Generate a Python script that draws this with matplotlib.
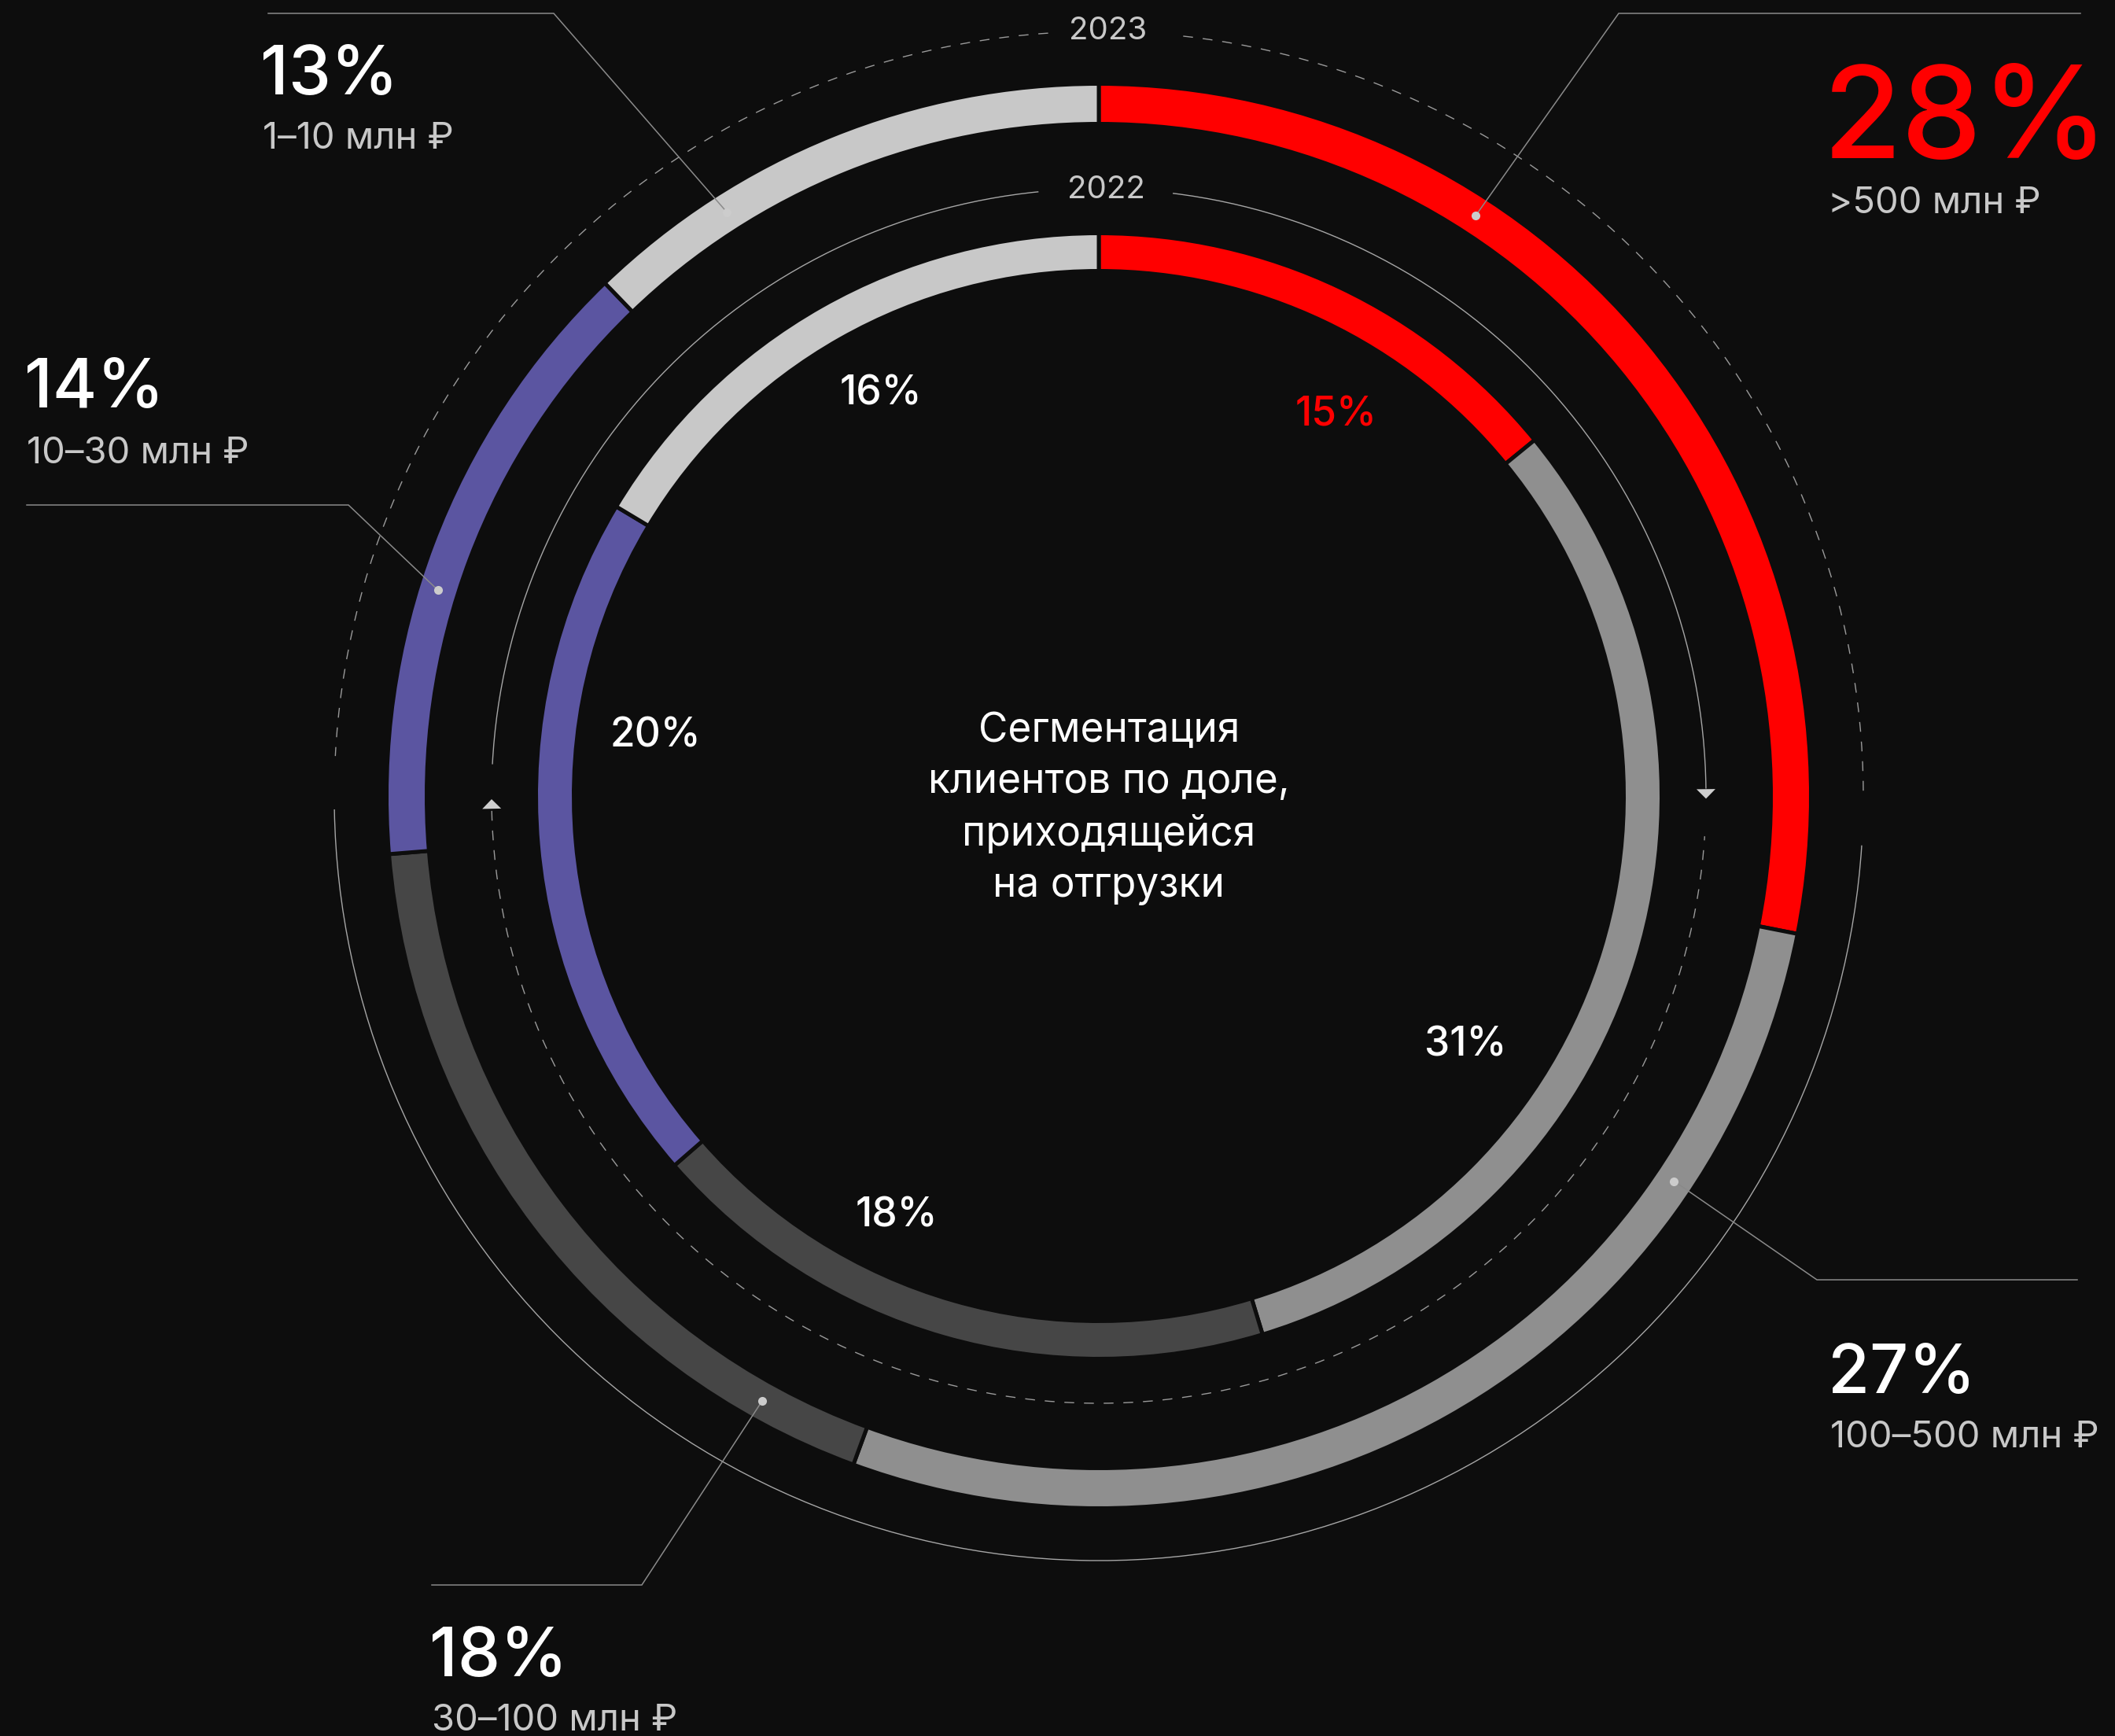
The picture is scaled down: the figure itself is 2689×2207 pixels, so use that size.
import numpy as np
import matplotlib
matplotlib.use('Agg')
from matplotlib import pyplot as plt
from matplotlib.patches import Arc, Polygon

plt.rcParams['font.family'] = ['Inter', 'DejaVu Sans']

# data (arc sizes as drawn in the picture, printed labels as written)
segments = ['>500 млн ₽', '100–500 млн ₽', '30–100 млн ₽', '10–30 млн ₽', '1–10 млн ₽']
share_2023 = [28.1, 27.5, 18.1, 14.1, 12.2]
share_2022 = [14.1, 31.2, 18.3, 20.0, 16.4]
label_2023 = ['28%', '27%', '18%', '14%', '13%']
label_2022 = ['15%', '31%', '18%', '20%', '16%']
years = ['2023', '2022']
title = 'Сегментация\nклиентов по доле,\nприходящейся\nна отгрузки'

BG = '#0d0d0d'
seg_colors = ['#ff0000', '#8f8f8f', '#464646', '#5b55a1', '#c8c8c8']
LINE = '#a6a6a6'
W, H = 2689, 2207

cx, cy = 1397, H - 1012
r_out, w_out = 903, 46
r_in, w_in = 713, 43
r_dash_out = 972
r_dash_in = 772
gap = 5


def pt(ang, r):
    a = np.radians(ang)
    return cx + r * np.cos(a), cy + r * np.sin(a)


fig = plt.figure(figsize=(W / 100, H / 100), dpi=100, facecolor=BG)
ax = fig.add_axes([0, 0, 1, 1])
ax.set_facecolor(BG)

# rings
for vals, r, w in [(share_2023, r_out, w_out), (share_2022, r_in, w_in)]:
    ax.pie(vals, radius=r + gap / 2, center=(cx, cy), startangle=90, counterclock=False,
           colors=seg_colors,
           wedgeprops=dict(width=w + gap, edgecolor=BG, linewidth=gap * 0.72))

# thin circles
for t1, t2 in [(0.4, 83.7), (93.8, 177)]:
    ax.add_patch(Arc((cx, cy), 2 * r_dash_out, 2 * r_dash_out, theta1=t1, theta2=t2,
                     color='#9a9a9a', lw=1.0, linestyle=(0, (9, 9))))
ax.add_patch(Arc((cx, cy), 2 * r_dash_out, 2 * r_dash_out, theta1=181, theta2=356.3,
                 color=LINE, lw=1.0))
for t1, t2 in [(0.7, 83.0), (95.7, 177)]:
    ax.add_patch(Arc((cx, cy), 2 * r_dash_in, 2 * r_dash_in, theta1=t1, theta2=t2,
                     color=LINE, lw=1.0))
ax.add_patch(Arc((cx, cy), 2 * r_dash_in, 2 * r_dash_in, theta1=181.4, theta2=356.2,
                 color='#9a9a9a', lw=1.0, linestyle=(0, (9, 9))))

# arrows on inner thin circle
for tip_a, base_a in [(-0.25, 0.65), (180.3, 181.2)]:
    tip = pt(tip_a, r_dash_in)
    b1 = pt(base_a, r_dash_in - 12)
    b2 = pt(base_a, r_dash_in + 12)
    ax.add_patch(Polygon([tip, b1, b2], closed=True, color='#cfcfcf', lw=0))

# year labels
ax.text(1409, H - 40, years[0], color='#c8c8c8', fontsize=29, ha='center', va='center')
ax.text(1406, H - 242, years[1], color='#c8c8c8', fontsize=29, ha='center', va='center')

# center title
ax.text(1410, H - 1028, title, color='white', fontsize=37, ha='center', va='center',
        multialignment='center', linespacing=1.42)

# inner ring values (2022)
inner_pos = [(58.1, 570), (-34.2, 564), (-115.7, 593), (172.3, 569), (118.5, 581)]
for i, (a, r) in enumerate(inner_pos):
    x, y = pt(a, r)
    ax.text(x, y, label_2022[i], color=seg_colors[0] if i == 0 else 'white',
            fontsize=37, ha='center', va='center', fontweight='medium')

# leader lines and outer labels (2023)
r_mid = r_out - w_out / 2
callouts = [
    # angle of dot, elbow, end x, text x, value baseline, label baseline
    (57.0, (2058, 17), 2645, 2324, 201, 271),
    (-33.8, (2310, 1627), 2641, 2327, 1771, 1840),
    (-119.1, (816, 2015), 549, 549, 2131, 2200),
    (162.7, (443, 642), 34, 34, 518, 589),
    (122.5, (704, 17), 341, 334, 120, 189),
]
for i, (a, elbow, x_end, tx, yb1, yb2) in enumerate(callouts):
    dx, dy = pt(a, r_mid)
    ex, ey = elbow[0], H - elbow[1]
    ax.plot([dx, ex, x_end], [dy, ey, ey], color='#8a8a8a', lw=1.1, solid_joinstyle='miter')
    ax.plot(dx, dy, 'o', color='#cccccc', markersize=8, markeredgewidth=0)
    if i == 0:
        ax.text(tx - 6, H - yb1, label_2023[i], color=seg_colors[0], fontsize=117,
                ha='left', va='baseline', fontweight='medium')
    else:
        ax.text(tx - 3, H - yb1, label_2023[i], color='white', fontsize=62,
                ha='left', va='baseline', fontweight='medium')
    ax.text(tx, H - yb2, segments[i], color='#c8c8c8', fontsize=34, ha='left', va='baseline')

ax.set_xlim(0, W)
ax.set_ylim(0, H)
ax.set_aspect('auto')
ax.axis('off')

fig.savefig('out.png', dpi=100, facecolor=BG)
